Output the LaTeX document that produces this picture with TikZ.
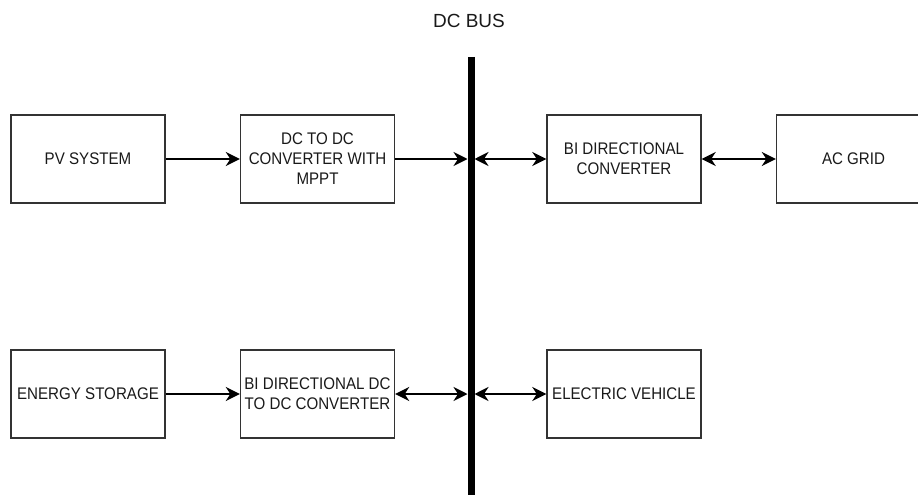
\documentclass[tikz,border=0pt]{standalone}
\usepackage{fontspec}
\setmainfont{Liberation Sans}[FakeStretch=0.9]
\newfontfamily\busfont{Liberation Sans}
\usetikzlibrary{arrows.meta, positioning}

\tikzset{
  tip/.tip={Stealth[length=14pt,width=14pt,inset=4.5pt]},
}

\begin{document}
\begin{tikzpicture}[x=1pt,y=1pt,on grid,node distance=229.5pt]
    \tikzstyle{block}=[shape=rectangle,draw=black!80,line width=1.4pt,minimum width=154pt,minimum height=88pt,align=center,inner sep=0pt,font=\fontsize{16.8}{20}\selectfont,text=black!90]
    \tikzstyle{link}=[line width=2pt]

    \useasboundingbox (0,0) rectangle (918,-495);

    \node[block] (PV) at (88,-159) {PV SYSTEM};
    \node[block, right=of PV] (CONV) {DC TO DC\\CONVERTER WITH\\MPPT};
    \node[block, right=306.5pt of CONV] (BDC) {BI DIRECTIONAL\\CONVERTER};
    \node[block, right=of BDC] (GRID) {AC GRID};
    \node[block, below=235pt of PV] (ES) {ENERGY STORAGE};
    \node[block, right=of ES] (BCONV) {BI DIRECTIONAL DC\\TO DC CONVERTER};
    \node[block, right=306.5pt of BCONV] (EV) {ELECTRIC VEHICLE};

    % dc bus
    \node[font=\busfont\fontsize{19}{22}\selectfont,text=black!90] (bus) at (469,-21) {DC BUS};
    \coordinate (bustop) at (471,-57);
    \coordinate (busbot) at (471,-495);
    \coordinate (busA) at (bustop |- PV);
    \coordinate (busB) at (bustop |- ES);
    \draw[line width=7pt] (bustop) -- (busbot);

    \path[link]
    (PV) edge[-tip] (CONV)
    (CONV) edge[-tip,shorten >=3.5pt] (busA)
    (busA) edge[tip-tip,shorten <=3.5pt] (BDC)
    (BDC) edge[tip-tip] (GRID)
    (ES) edge[-tip] (BCONV)
    (BCONV) edge[tip-tip,shorten >=3.5pt] (busB)
    (busB) edge[tip-tip,shorten <=3.5pt] (EV)
   ;
\end{tikzpicture}
\end{document}
